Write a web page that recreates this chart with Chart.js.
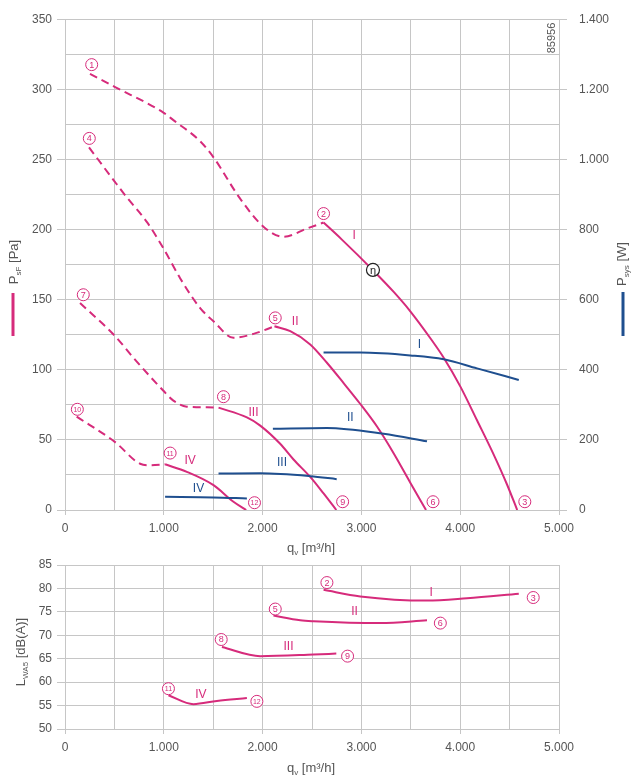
<!DOCTYPE html>
<html>
<head>
<meta charset="utf-8">
<script src="https://cdn.jsdelivr.net/npm/chart.js@4.4.0/dist/chart.umd.min.js"></script>
<style>
  html, body { margin: 0; padding: 0; background: #fff; }
  #wrap { position: relative; width: 636px; height: 779px; }
  canvas { position: absolute; left: 0; }
  #oben { top: 0; }
  #unten { top: 550px; }
</style>
</head>
<body>
<div id="wrap">
  <canvas id="oben" width="636" height="560"></canvas>
  <canvas id="unten" width="636" height="229"></canvas>
</div>
<script>
// --- Kennlinien Druck (Pa), gestrichelt = instabiler Bereich
const qI_dash = [253, 507, 996, 1097, 1368, 1503, 1773, 2009, 2212, 2448, 2617];
const pI_dash = [311, 301.6, 283.4, 278, 263, 251.5, 222, 202, 194.8, 200.7, 205];
const qI = [2617, 2800, 3117, 3327, 3495, 3698, 3833, 4002, 4170, 4339, 4475, 4577];
const pI = [205, 193, 171, 155.5, 141.7, 122.5, 108.6, 88, 64, 39.5, 18, 0];

const qII_dash = [243, 507, 625, 828, 996, 1165, 1368, 1503, 1705, 1908, 2120];
const pII_dash = [258.6, 233.8, 223, 205.5, 186.6, 165.3, 144, 134.6, 122.8, 125.6, 131];
const qII = [2120, 2280, 2482, 2651, 2820, 2989, 3158, 3326, 3495, 3654];
const pII = [131, 127.5, 118.1, 105, 90.5, 75.6, 59.5, 40.5, 19.5, 0];

const qIII_dash = [152, 507, 692, 996, 1097, 1233, 1435, 1554];
const pIII_dash = [147.6, 124, 108.6, 85, 78, 73.7, 73.2, 73];
const qIII = [1554, 1841, 1976, 2178, 2313, 2482, 2617, 2746];
const pIII = [73, 66, 60.2, 47.2, 36, 23.6, 11.8, 0];

const qIV_dash = [118, 507, 760, 861, 1013];
const pIV_dash = [66.6, 48.4, 33, 31.9, 32.6];
const qIV = [1013, 1233, 1503, 1705, 1834];
const pIV = [32.6, 27.2, 17.7, 5.9, 0];

// --- Leistungsaufnahme (W)
const qPI = [2617, 2989, 3495, 3833, 4170, 4593];
const wPI = [449, 449, 441, 430, 404, 371];
const qPII = [2104, 2651, 3225, 3664];
const wPII = [231.5, 234, 217.4, 196];
const qPIII = [1554, 1976, 2482, 2750];
const wPIII = [104, 104.5, 96.4, 88];
const qPIV = [1013, 1503, 1841];
const wPIV = [37.7, 36, 33];

// --- Schallleistung (dB(A))
const qLI = [2617, 2989, 3664, 4069, 4593];
const lI = [79.7, 78.3, 77.4, 77.9, 78.85];
const qLII = [2110, 2381, 2516, 3191, 3664];
const lII = [74.2, 73.2, 73.0, 72.6, 73.2];
const qLIII = [1588, 1976, 2516, 2746];
const lIII = [67.5, 65.55, 65.9, 66.1];
const qLIV = [1047, 1300, 1537, 1841];
const lIV = [57.2, 55.3, 56.0, 56.6];

// achsen
const xTicks = [0, 1000, 2000, 3000, 4000, 5000];
const pTicks = [0, 50, 100, 150, 200, 250, 300, 350];
const wTicks = [0, 200, 400, 600, 800, 1000, 1200, 1400];
const lTicks = [50, 55, 60, 65, 70, 75, 80, 85];

const PINK = "#d62b7b";
const BLUE = "#1f4f8f";
const GRID = "#c6c6c6";
const TXT = "#555";
const FONT = "'Liberation Sans', Arial, sans-serif";

function fmt(v) {
  if (v >= 1000) return Math.floor(v / 1000) + "." + String(v % 1000).padStart(3, "0");
  return String(v);
}

function pts(xs, ys) {
  return xs.map((x, i) => ({ x: x, y: ys[i] }));
}

function linie(xs, ys, farbe, gestrichelt, achse) {
  return {
    data: pts(xs, ys),
    borderColor: farbe,
    borderWidth: 2,
    borderDash: gestrichelt ? [8, 5] : [],
    pointRadius: 0,
    showLine: true,
    fill: false,
    cubicInterpolationMode: "monotone",
    yAxisID: achse || "y",
  };
}

// Text mit tiefgestelltem Teil, optional gedreht
function titel(ctx, teile, x, y, rot) {
  ctx.save();
  ctx.translate(x, y);
  if (rot) ctx.rotate(-Math.PI / 2);
  ctx.fillStyle = TXT;
  ctx.textBaseline = "middle";
  let breite = 0;
  teile.forEach((t) => {
    ctx.font = (t.sub ? "8px " : "13px ") + FONT;
    breite += ctx.measureText(t.t).width;
  });
  let cx = -breite / 2;
  teile.forEach((t) => {
    ctx.font = (t.sub ? "8px " : "13px ") + FONT;
    ctx.textAlign = "left";
    ctx.fillText(t.t, cx, t.sub ? 5 : 0);
    cx += ctx.measureText(t.t).width;
  });
  ctx.restore();
}

const markenPlugin = {
  id: "marken",
  afterDatasetsDraw(chart, args, opts) {
    const ctx = chart.ctx;
    const sx = chart.scales.x;
    const sy = chart.scales.y;
    ctx.save();
    (opts.kreise || []).forEach((m) => {
      const px = sx.getPixelForValue(m.x);
      const py = sy.getPixelForValue(m.y);
      ctx.beginPath();
      ctx.arc(px, py, 6, 0, Math.PI * 2);
      ctx.fillStyle = "#fff";
      ctx.fill();
      ctx.lineWidth = 1;
      ctx.strokeStyle = PINK;
      ctx.stroke();
      ctx.fillStyle = PINK;
      ctx.font = (m.t.length > 1 ? "7px " : "9px ") + FONT;
      ctx.textAlign = "center";
      ctx.textBaseline = "middle";
      ctx.fillText(m.t, px, py + 0.5);
    });
    (opts.roemisch || []).forEach((m) => {
      const px = sx.getPixelForValue(m.x);
      const py = sy.getPixelForValue(m.y);
      ctx.fillStyle = m.c;
      ctx.font = "12px " + FONT;
      ctx.textAlign = "center";
      ctx.textBaseline = "middle";
      ctx.fillText(m.t, px, py);
    });
    if (opts.eta) {
      const px = sx.getPixelForValue(opts.eta.x);
      const py = sy.getPixelForValue(opts.eta.y);
      ctx.beginPath();
      ctx.arc(px, py, 6.5, 0, Math.PI * 2);
      ctx.fillStyle = "#fff";
      ctx.fill();
      ctx.lineWidth = 1.2;
      ctx.strokeStyle = "#222";
      ctx.stroke();
      ctx.fillStyle = "#222";
      ctx.font = "11px " + FONT;
      ctx.textAlign = "center";
      ctx.textBaseline = "middle";
      ctx.fillText("η", px, py + 1);
    }
    ctx.restore();
  },
  afterDraw(chart, args, opts) {
    const ctx = chart.ctx;
    (opts.titel || []).forEach((t) => titel(ctx, t.teile, t.x, t.y, t.rot));
    (opts.striche || []).forEach((s) => {
      ctx.save();
      ctx.strokeStyle = s.c;
      ctx.lineWidth = 3;
      ctx.beginPath();
      ctx.moveTo(s.x, s.y1);
      ctx.lineTo(s.x, s.y2);
      ctx.stroke();
      ctx.restore();
    });
    if (opts.nummer) {
      ctx.save();
      ctx.translate(opts.nummer.x, opts.nummer.y);
      ctx.rotate(-Math.PI / 2);
      ctx.fillStyle = TXT;
      ctx.font = "11px " + FONT;
      ctx.textAlign = "center";
      ctx.textBaseline = "middle";
      ctx.fillText("85956", 0, 0);
      ctx.restore();
    }
  },
};

function xAchse() {
  return {
    type: "linear",
    min: 0,
    max: 5000,
    afterBuildTicks: (s) => {
      s.ticks = [];
      for (let v = 0; v <= 5000; v += 500) s.ticks.push({ value: v });
    },
    ticks: {
      autoSkip: false,
      maxRotation: 0,
      padding: 6,
      color: TXT,
      font: { family: FONT, size: 12 },
      callback: (v) => (xTicks.includes(v) ? fmt(v) : ""),
    },
    grid: {
      color: GRID,
      lineWidth: 1,
      tickLength: 5,
      tickColor: (c) => (c.tick && xTicks.includes(c.tick.value) ? GRID : "rgba(0,0,0,0)"),
    },
    border: { color: GRID },
    afterFit: (s) => { s.height = 50; },
  };
}

document.addEventListener("DOMContentLoaded", () => {
  // oberes Diagramm
  new Chart(document.getElementById("oben"), {
    type: "scatter",
    data: {
      datasets: [
        linie(qPI, wPI, BLUE, false, "y2"),
        linie(qPII, wPII, BLUE, false, "y2"),
        linie(qPIII, wPIII, BLUE, false, "y2"),
        linie(qPIV, wPIV, BLUE, false, "y2"),
        linie(qI_dash, pI_dash, PINK, true),
        linie(qI, pI, PINK, false),
        linie(qII_dash, pII_dash, PINK, true),
        linie(qII, pII, PINK, false),
        linie(qIII_dash, pIII_dash, PINK, true),
        linie(qIII, pIII, PINK, false),
        linie(qIV_dash, pIV_dash, PINK, true),
        linie(qIV, pIV, PINK, false),
      ],
    },
    options: {
      responsive: false,
      animation: false,
      layout: { padding: { top: 13, left: 0, right: 0, bottom: 0 } },
      plugins: {
        legend: { display: false },
        tooltip: { enabled: false },
        marken: {
          kreise: [
            { t: "1", x: 270, y: 317.6 },
            { t: "2", x: 2617, y: 211.4 },
            { t: "3", x: 4654, y: 5.9 },
            { t: "4", x: 246, y: 265 },
            { t: "5", x: 2128, y: 137 },
            { t: "6", x: 3725, y: 5.9 },
            { t: "7", x: 185, y: 153.5 },
            { t: "8", x: 1604, y: 80.8 },
            { t: "9", x: 2810, y: 5.9 },
            { t: "10", x: 125, y: 71.8 },
            { t: "11", x: 1064, y: 40.6 },
            { t: "12", x: 1918, y: 5.2 },
          ],
          roemisch: [
            { t: "I", x: 2928, y: 195.6, c: PINK },
            { t: "II", x: 2330, y: 134.1, c: PINK },
            { t: "III", x: 1908, y: 69.6, c: PINK },
            { t: "IV", x: 1266, y: 35.4, c: PINK },
            { t: "I", x: 3587, y: 117.6, c: BLUE },
            { t: "II", x: 2888, y: 65.9, c: BLUE },
            { t: "III", x: 2196, y: 33.5, c: BLUE },
            { t: "IV", x: 1351, y: 15.1, c: BLUE },
          ],
          eta: { x: 3117, y: 171.2 },
          titel: [
            { teile: [{ t: "q" }, { t: "v", sub: true }, { t: " [m³/h]" }], x: 311, y: 548 },
            { teile: [{ t: "P" }, { t: "sF", sub: true }, { t: " [Pa]" }], x: 14, y: 262, rot: true },
            { teile: [{ t: "P" }, { t: "sys", sub: true }, { t: " [W]" }], x: 622, y: 264, rot: true },
          ],
          striche: [
            { x: 13, y1: 293, y2: 336, c: PINK },
            { x: 623, y1: 292, y2: 336, c: BLUE },
          ],
          nummer: { x: 552, y: 38 },
        },
      },
      scales: {
        x: xAchse(),
        y: {
          type: "linear",
          position: "left",
          min: 0,
          max: 350,
          afterBuildTicks: (s) => {
            s.ticks = [];
            for (let v = 0; v <= 350; v += 25) s.ticks.push({ value: v });
          },
          ticks: {
            autoSkip: false,
            padding: 5,
            color: TXT,
            font: { family: FONT, size: 12 },
            callback: (v) => (pTicks.includes(v) ? String(v) : ""),
          },
          grid: {
            color: GRID,
            lineWidth: 1,
            tickLength: 8,
            tickColor: (c) => (c.tick && pTicks.includes(c.tick.value) ? GRID : "rgba(0,0,0,0)"),
          },
          border: { color: GRID },
          afterFit: (s) => { s.width = 65; },
        },
        y2: {
          type: "linear",
          position: "right",
          min: 0,
          max: 1400,
          afterBuildTicks: (s) => {
            s.ticks = wTicks.map((v) => ({ value: v }));
          },
          ticks: {
            autoSkip: false,
            padding: 12,
            color: TXT,
            font: { family: FONT, size: 12 },
            callback: (v) => fmt(v),
          },
          grid: { drawOnChartArea: false, color: GRID, tickLength: 8 },
          border: { color: GRID },
          afterFit: (s) => { s.width = 77; },
        },
      },
    },
    plugins: [markenPlugin],
  });

  // unteres Diagramm
  new Chart(document.getElementById("unten"), {
    type: "scatter",
    data: {
      datasets: [
        linie(qLI, lI, PINK, false),
        linie(qLII, lII, PINK, false),
        linie(qLIII, lIII, PINK, false),
        linie(qLIV, lIV, PINK, false),
      ],
    },
    options: {
      responsive: false,
      animation: false,
      layout: { padding: { top: 15, left: 0, right: 77, bottom: 0 } },
      plugins: {
        legend: { display: false },
        tooltip: { enabled: false },
        marken: {
          kreise: [
            { t: "2", x: 2651, y: 81.25 },
            { t: "3", x: 4739, y: 78.06 },
            { t: "5", x: 2128, y: 75.6 },
            { t: "6", x: 3799, y: 72.6 },
            { t: "8", x: 1581, y: 69.1 },
            { t: "9", x: 2860, y: 65.55 },
            { t: "11", x: 1047, y: 58.6 },
            { t: "12", x: 1942, y: 55.9 },
          ],
          roemisch: [
            { t: "I", x: 3705, y: 79.1, c: PINK },
            { t: "II", x: 2931, y: 75.0, c: PINK },
            { t: "III", x: 2262, y: 67.5, c: PINK },
            { t: "IV", x: 1375, y: 57.4, c: PINK },
          ],
          titel: [
            { teile: [{ t: "q" }, { t: "v", sub: true }, { t: " [m³/h]" }], x: 311, y: 218 },
            { teile: [{ t: "L" }, { t: "WA5", sub: true }, { t: " [dB(A)]" }], x: 21, y: 102, rot: true },
          ],
        },
      },
      scales: {
        x: xAchse(),
        y: {
          type: "linear",
          position: "left",
          min: 50,
          max: 85,
          afterBuildTicks: (s) => {
            s.ticks = lTicks.map((v) => ({ value: v }));
          },
          ticks: {
            autoSkip: false,
            padding: 5,
            color: TXT,
            font: { family: FONT, size: 12 },
          },
          grid: { color: GRID, lineWidth: 1, tickLength: 8 },
          border: { color: GRID },
          afterFit: (s) => { s.width = 65; },
        },
      },
    },
    plugins: [markenPlugin],
  });
});
</script>
</body>
</html>
